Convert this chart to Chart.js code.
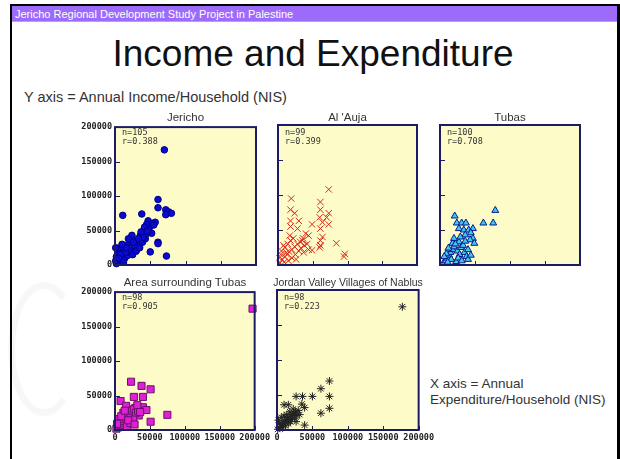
<!DOCTYPE html>
<html>
<head>
<meta charset="utf-8">
<script src="https://cdn.jsdelivr.net/npm/chart.js@4"></script>
<style>
  body { margin: 0; width: 620px; height: 459px; background: #fff; position: relative; overflow: hidden;
         font-family: "Liberation Sans", Arial, sans-serif; color: #333; }
  .frame { position: absolute; left: 10px; top: 4px; width: 605px; height: 460px;
           border-left: 2px solid #000; border-top: 2px solid #000; border-right: 3px solid #000; }
  .header { position: absolute; left: 12px; top: 6px; width: 605px; height: 16px; background: #9d6bfc;
            border-bottom: 1px solid #b8a0ee; color: #fff; font-size: 11px; line-height: 16px; padding-left: 3px;
            box-sizing: border-box; }
  .title { position: absolute; left: 0; top: 35px; width: 626px; text-align: center; font-size: 37px;
           line-height: 1; color: #111; }
  .note { position: absolute; font-size: 14.5px; line-height: 1; color: #333; white-space: nowrap; }
  .ptitle { position: absolute; font-size: 11.5px; line-height: 1; color: #333; text-align: center; white-space: nowrap; }
  .stats { position: absolute; font-family: "DejaVu Sans Mono", monospace; font-size: 8.5px; line-height: 9px; color: #333; }
  canvas { position: absolute; }
  .mark { position: absolute; left: 8px; top: 282px; width: 58px; height: 120px; border: 7px solid #f7f7f7;
          border-right-color: transparent; border-radius: 50%; }
</style>
</head>
<body>
<div class="mark"></div>
<div class="frame"></div>
<div class="header">Jericho Regional Development Study Project in Palestine</div>
<div class="title">Income and Expenditure</div>
<div class="note" style="left:24px; top:90px;">Y axis = Annual Income/Household (NIS)</div>
<div class="note" style="left:430px; top:376px; line-height:16px; font-size:13.5px;">X axis = Annual<br>Expenditure/Household (NIS)</div>
<div id="panels"></div>

<script>
// axis ticks shared by every panel (NIS)
const tickValues = [0, 50000, 100000, 150000, 200000];
const axisMax = 200000;

// panel titles and stats
const panelTitles = ['Jericho', "Al 'Auja", 'Tubas', 'Area surrounding Tubas', 'Jordan Valley Villages of Nablus'];
const panelN = ['n=105', 'n=99', 'n=100', 'n=98', 'n=98'];
const panelR = ['r=0.388', 'r=0.399', 'r=0.708', 'r=0.905', 'r=0.223'];

// [expenditure, income] per household
const jerichoPoints = [
  [70000, 167000], [61000, 95000], [61000, 83000], [72000, 80000], [76000, 77000], [80000, 75000], [72000, 73000],
  [11000, 72000], [38000, 74000], [47000, 64000], [57000, 62000], [50000, 57000], [45000, 59000], [48000, 52000],
  [41000, 48000], [52000, 46000], [36000, 43000], [24000, 43000], [31000, 36000], [21000, 33000], [17000, 29000],
  [10000, 24000], [5000, 19000], [2000, 12000], [12000, 12000], [7000, 9000], [61000, 33000], [61000, 31000],
  [50000, 19000], [73000, 13000], [3000, 3000], [6000, 5000], [9000, 7000], [14000, 10000], [18000, 14000],
  [22000, 18000], [26000, 22000], [30000, 26000], [34000, 30000], [39000, 33000], [43000, 38000], [44000, 45000],
  [40000, 40000], [28000, 28000], [25000, 15000], [20000, 22000], [15000, 18000], [8000, 15000], [4000, 24000],
  [2000, 2000], [1000, 6000], [12000, 4000], [16000, 25000], [33000, 38000], [37000, 48000], [42000, 55000],
  [46000, 49000], [53000, 60000], [55000, 58000], [26000, 33000], [30000, 20000], [35000, 25000], [10000, 30000],
  [19000, 38000], [1000, 25000], [5000, 10000]
];
const aujaPoints = [
  [73000, 108000], [19000, 95000], [61000, 90000], [18000, 79000], [24000, 74000], [61000, 79000], [73000, 74000],
  [60000, 68000], [70000, 68000], [18000, 63000], [30000, 63000], [64000, 61000], [49000, 58000], [73000, 58000],
  [18000, 55000], [28000, 52000], [61000, 52000], [40000, 45000], [44000, 42000], [36000, 38000], [64000, 40000],
  [61000, 35000], [84000, 31000], [61000, 28000], [49000, 21000], [60000, 25000], [96000, 16000], [95000, 12000],
  [3000, 3000], [6000, 8000], [10000, 12000], [13000, 15000], [16000, 19000], [20000, 22000], [24000, 26000],
  [28000, 30000], [32000, 33000], [35000, 35000], [9000, 4000], [15000, 6000], [20000, 10000], [25000, 15000],
  [30000, 20000], [5000, 20000], [10000, 25000], [14000, 30000], [18000, 35000], [22000, 38000], [12000, 18000],
  [26000, 8000], [33000, 24000], [38000, 28000], [42000, 30000], [8000, 28000], [2000, 10000], [17000, 42000],
  [4000, 15000], [37000, 18000], [44000, 22000]
];
const tubasPoints = [
  [79000, 78000], [21000, 70000], [62000, 60000], [76000, 60000], [24000, 60000], [31000, 60000], [37000, 60000],
  [27000, 52000], [34000, 50000], [41000, 50000], [47000, 52000], [44000, 46000], [36000, 43000], [47000, 38000],
  [43000, 36000], [27000, 33000], [18000, 31000], [49000, 31000], [5000, 3000], [8000, 6000], [10000, 10000],
  [13000, 14000], [15000, 18000], [18000, 22000], [20000, 26000], [22000, 30000], [25000, 20000], [28000, 15000],
  [30000, 25000], [33000, 28000], [35000, 18000], [38000, 12000], [40000, 8000], [23000, 5000], [16000, 8000],
  [12000, 24000], [9000, 16000], [26000, 10000], [31000, 6000], [44000, 14000], [20000, 38000], [29000, 40000],
  [11000, 4000], [6000, 12000], [36000, 34000], [40000, 22000]
];
const areaPoints = [
  [197000, 176000], [23000, 70000], [38000, 64000], [51000, 59000], [27000, 48000], [40000, 48000], [8000, 42000],
  [16000, 35000], [29000, 32000], [40000, 33000], [45000, 29000], [75000, 22000], [51000, 12000], [21000, 21000],
  [34000, 21000], [2000, 2000], [5000, 4000], [8000, 7000], [10000, 10000], [13000, 13000], [15000, 17000],
  [18000, 20000], [20000, 24000], [24000, 28000], [27000, 30000], [30000, 25000], [33000, 28000], [12000, 25000],
  [17000, 5000], [22000, 10000], [26000, 15000], [6000, 16000], [9000, 20000], [14000, 28000], [32000, 36000],
  [36000, 26000], [3000, 9000], [19000, 14000], [28000, 8000]
];
const jordanPoints = [
  [177000, 176000], [74000, 70000], [62000, 59000], [74000, 48000], [50000, 48000], [27000, 48000], [36000, 48000],
  [10000, 36000], [16000, 36000], [35000, 37000], [39000, 32000], [74000, 31000], [62000, 24000], [39000, 7000],
  [26000, 26000], [28000, 21000], [1000, 1000], [3000, 3000], [5000, 5000], [7000, 8000], [9000, 10000],
  [11000, 12000], [13000, 14000], [15000, 16000], [17000, 18000], [20000, 20000], [22000, 22000], [24000, 24000],
  [4000, 10000], [8000, 3000], [12000, 6000], [16000, 9000], [19000, 12000], [2000, 14000], [6000, 18000],
  [10000, 20000], [14000, 22000], [21000, 15000], [25000, 17000], [23000, 30000], [18000, 26000], [30000, 28000],
  [32000, 22000], [27000, 12000]
];

const plotFill = '#fdfcc8';
const frameColor = '#1c1c66';
const tickFont = { family: '"DejaVu Sans Mono", monospace', size: 8.5, weight: 'bold' };

// plot rectangles on the page: left, top, right, bottom
const panels = [
  { rect: [115, 125, 256, 265], data: jerichoPoints, showX: false, showY: true,
    style: { pointStyle: 'circle', radius: 3.3, backgroundColor: '#0b0bd0', borderColor: '#00008a', borderWidth: 1 } },
  { rect: [278, 125, 417, 265], data: aujaPoints, showX: false, showY: false,
    style: { pointStyle: 'crossRot', radius: 4.5, backgroundColor: '#d8281a', borderColor: '#d8281a', borderWidth: 1 } },
  { rect: [440, 125, 580, 265], data: tubasPoints, showX: false, showY: false,
    style: { pointStyle: 'triangle', radius: 4, backgroundColor: '#3cc8f0', borderColor: '#0a1a8a', borderWidth: 1 } },
  { rect: [115, 290, 255, 430], data: areaPoints, showX: true, showY: true,
    style: { pointStyle: 'rect', radius: 5, backgroundColor: '#e020d8', borderColor: '#6a106a', borderWidth: 1 } },
  { rect: [277, 290, 419, 430], data: jordanPoints, showX: true, showY: false,
    style: { pointStyle: 'star', radius: 4, backgroundColor: '#222', borderColor: '#222', borderWidth: 1 } }
];

const panelFrame = {
  id: 'panelFrame',
  beforeDraw(chart) {
    const a = chart.chartArea, ctx = chart.ctx;
    ctx.save();
    ctx.fillStyle = plotFill;
    ctx.fillRect(a.left, a.top, a.right - a.left, a.bottom - a.top);
    ctx.restore();
  },
  afterDraw(chart) {
    const a = chart.chartArea, ctx = chart.ctx;
    const x = chart.scales.x, y = chart.scales.y;
    ctx.save();
    ctx.strokeStyle = frameColor;
    ctx.lineWidth = 1;
    tickValues.forEach(v => {
      const px = Math.round(x.getPixelForValue(v)) + 0.5;
      ctx.beginPath(); ctx.moveTo(px, a.bottom); ctx.lineTo(px, a.bottom - 4); ctx.stroke();
      const py = Math.round(y.getPixelForValue(v)) + 0.5;
      ctx.beginPath(); ctx.moveTo(a.left, py); ctx.lineTo(a.left + 5, py); ctx.stroke();
    });
    ctx.lineWidth = 2;
    ctx.strokeRect(a.left, a.top, a.right - a.left, a.bottom - a.top);
    ctx.restore();
  }
};

const LEFT = 50, TOP = 6, RIGHT = 18, BOTTOM = 16;
const holder = document.getElementById('panels');

panels.forEach((p, i) => {
  const [l, t, r, b] = p.rect;
  const canvas = document.createElement('canvas');
  canvas.width = r - l + LEFT + RIGHT;
  canvas.height = b - t + TOP + BOTTOM;
  canvas.style.left = (l - LEFT) + 'px';
  canvas.style.top = (t - TOP) + 'px';
  holder.appendChild(canvas);

  const title = document.createElement('div');
  title.className = 'ptitle';
  title.textContent = panelTitles[i];
  title.style.left = (l - 20) + 'px';
  title.style.width = (r - l + 40) + 'px';
  title.style.top = (t - 13) + 'px';
  if (i === 4) { title.style.fontFamily = '"Liberation Sans Narrow", "Liberation Sans", sans-serif'; title.style.fontSize = '10.5px'; }
  document.body.appendChild(title);

  const stats = document.createElement('div');
  stats.className = 'stats';
  stats.innerHTML = panelN[i] + '<br>' + panelR[i];
  stats.style.left = (l + 7) + 'px';
  stats.style.top = (t + 3) + 'px';
  document.body.appendChild(stats);

  new Chart(canvas.getContext('2d'), {
    type: 'scatter',
    data: {
      datasets: [Object.assign({
        data: p.data.map(d => ({ x: d[0], y: d[1] })),
        clip: 3
      }, p.style)]
    },
    options: {
      responsive: false,
      animation: false,
      events: [],
      layout: { padding: { top: TOP, right: RIGHT, bottom: 0, left: 0 } },
      plugins: { legend: { display: false }, tooltip: { enabled: false } },
      scales: {
        x: {
          type: 'linear', min: 0, max: axisMax,
          ticks: { display: p.showX, stepSize: 50000, autoSkip: false, maxRotation: 0, padding: 3,
                   font: tickFont, color: '#222', callback: v => String(v) },
          grid: { display: false, drawTicks: false },
          border: { display: false },
          afterFit: s => { s.height = BOTTOM; }
        },
        y: {
          type: 'linear', min: 0, max: axisMax,
          ticks: { display: p.showY, stepSize: 50000, autoSkip: false, padding: 3,
                   font: tickFont, color: '#222', callback: v => String(v) },
          grid: { display: false, drawTicks: false },
          border: { display: false },
          afterFit: s => { s.width = LEFT; }
        }
      }
    },
    plugins: [panelFrame]
  });
});
</script>
</body>
</html>
